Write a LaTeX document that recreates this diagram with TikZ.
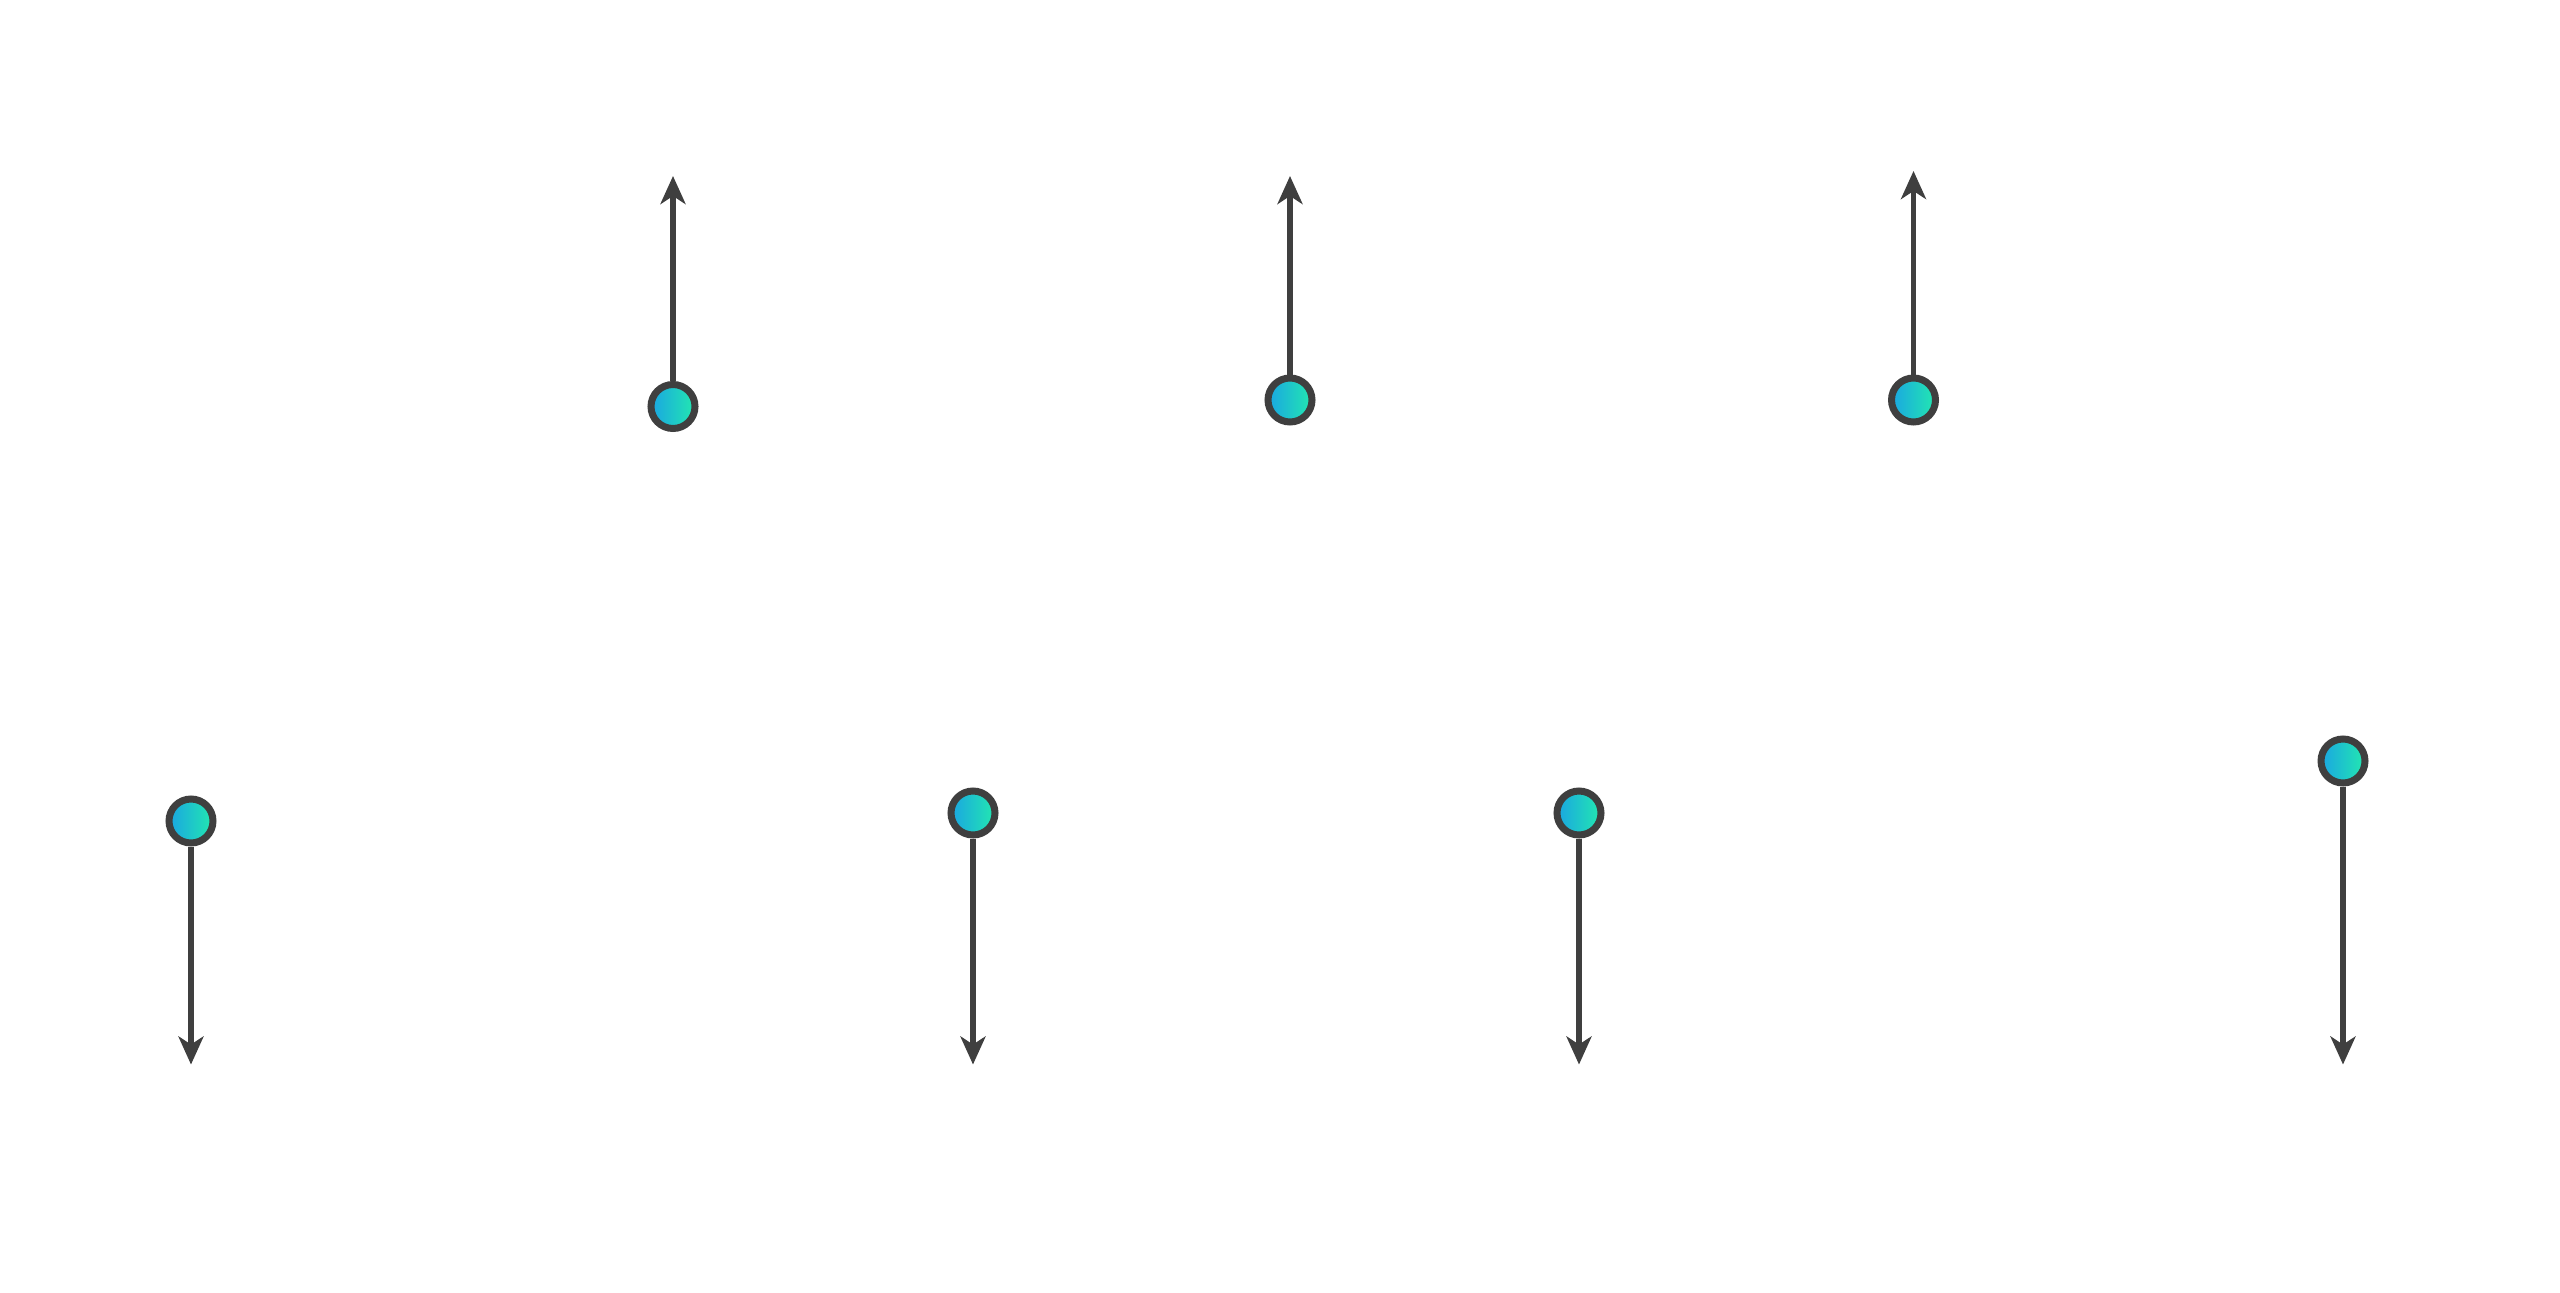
\documentclass[tikz,border=0pt]{standalone}
\usepackage{xcolor}
\usetikzlibrary{arrows.meta}
\definecolor{spingrey}{HTML}{3F3F3F}
\definecolor{spinblue}{HTML}{1AA6E2}
\definecolor{spingreen}{HTML}{22E8B0}
\begin{document}
\begin{tikzpicture}[spin/.style={circle, draw=spingrey, line width=0.07cm, minimum size=0.44cm, inner sep=0pt, left color=spinblue, right color=spingreen},
  vec/.style={draw=spingrey, line width=0.055cm, -{Stealth[length=0.28cm, width=0.25cm, inset=0.08cm]}}]
\useasboundingbox (0,0) rectangle (25.6,12.92);
% spins pointing up
\node[spin] (s1) at (6.73, 8.855) {};
\node[spin] (s2) at (12.90, 8.92) {};
\node[spin] (s3) at (19.135, 8.92) {};
\coordinate (t1) at (6.73, 11.16);
\coordinate (t2) at (12.90, 11.16);
\coordinate (t3) at (19.135, 11.21);
\draw[vec] (s1) -- (t1);
\draw[vec] (s2) -- (t2);
\draw[vec] (s3) -- (t3);
% spins pointing down
\node[spin] (s4) at (1.91, 4.71) {};
\node[spin] (s5) at (9.73, 4.79) {};
\node[spin] (s6) at (15.79, 4.79) {};
\node[spin] (s7) at (23.43, 5.31) {};
\coordinate (t4) at (1.91, 2.275);
\coordinate (t5) at (9.73, 2.275);
\coordinate (t6) at (15.79, 2.275);
\coordinate (t7) at (23.43, 2.275);
\draw[vec] (s4) -- (t4);
\draw[vec] (s5) -- (t5);
\draw[vec] (s6) -- (t6);
\draw[vec] (s7) -- (t7);
\end{tikzpicture}
\end{document}
